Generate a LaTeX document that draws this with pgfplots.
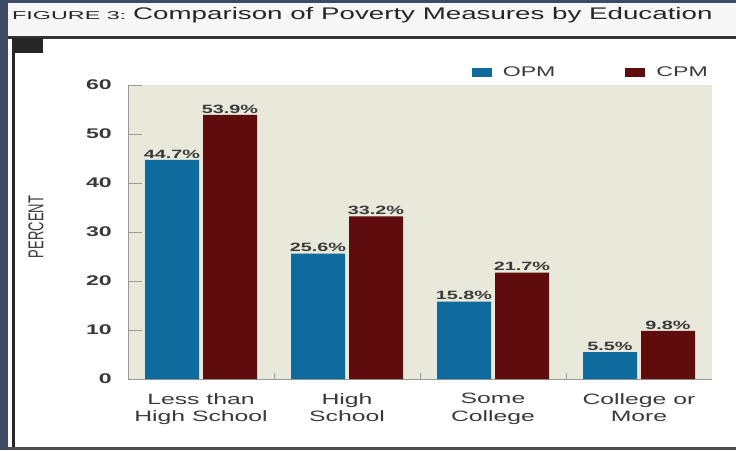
\documentclass[border=0pt]{standalone}
\usepackage{fontspec}
\setmainfont{Liberation Sans}[FakeStretch=1.65]
\newfontfamily\plainfont{Liberation Sans}
\usepackage{graphicx}
\usepackage{pgfplots}
\pgfplotsset{compat=1.18}
\definecolor{opmblue}{HTML}{0F6A9D}
\definecolor{cpmred}{HTML}{5E0C0C}
\definecolor{panelbg}{HTML}{E8E9DB}
\definecolor{frameblue}{HTML}{3B4B66}
\definecolor{txtgray}{HTML}{3A3A3A}
\definecolor{axisgray}{HTML}{9A9A96}

\begin{document}
\begin{tikzpicture}[x=1pt,y=1pt]
% page frame (1 unit = 1 px of the reference)
\path[use as bounding box] (0,0) rectangle (736,-450);
\fill[white] (0,0) rectangle (736,-450);
\fill[gray!6] (8,-3) rectangle (736,-35.5);
\fill[frameblue] (0,0) rectangle (736,-3);
\fill[frameblue] (0,0) rectangle (8,-450);
\fill[black!80] (8,-35.5) rectangle (736,-38.5);
\fill[black!85] (12,-38) rectangle (15,-447);
\fill[black!85] (12,-38) rectangle (43,-53);
\fill[black!70] (8,-447) rectangle (736,-450);
\node[anchor=base west, inner sep=0pt, text=black!85] at (12,-19)
  {\scalebox{1.24}[1]{\fontsize{11.4}{12}\selectfont FIGURE 3:}};
\node[anchor=base west, inner sep=0pt, text=black!85] at (133,-19)
  {\fontsize{16.8}{18}\selectfont Comparison of Poverty Measures by Education};

\begin{axis}[
  scale only axis,
  width=584pt, height=294pt,
  at={(128pt,-379pt)}, anchor=south west,
  xmin=-0.5, xmax=3.5, ymin=0, ymax=60,
  ybar=4pt, bar width=54pt,
  axis background/.style={fill=panelbg},
  axis x line*=bottom, axis y line*=left,
  axis line style={draw=axisgray, line width=0.8pt, -},
  tick align=inside,
  ytick={0,10,...,60},
  ytick style={draw=axisgray, line width=0.8pt, /pgfplots/major tick length=14pt},
  yticklabel style={font=\fontsize{14}{14}\selectfont\bfseries, text=txtgray,
    inner sep=0pt, xshift=-16pt},
  /pgf/number format/assume math mode=true,
  xtick={0,1,2,3},
  xticklabels={{Less than\\High School},{High\\School},{Some\\College},{College or\\More}},
  xticklabel style={align=center, font=\fontsize{15}{17.4}\selectfont, text=txtgray,
    inner sep=0pt, yshift=-14pt},
  every major x tick/.append style={draw=none},
  minor x tick num=1,
  every minor x tick/.append style={draw=axisgray, line width=0.8pt},
  minor tick length=6pt,
  every axis y label/.style={at={(rel axis cs:0,0.517)}, xshift=-92pt,
    rotate=90, anchor=center, text=txtgray},
  ylabel={\plainfont\fontsize{13}{13}\selectfont\scalebox{1}[1.65]{PERCENT}},
  nodes near coords,
  point meta=explicit symbolic,
  every node near coord/.append style={font=\fontsize{12}{12}\selectfont\bfseries,
    text=txtgray, anchor=south, inner sep=1.5pt},
  legend columns=2,
  legend style={at={(1,1)}, anchor=south east, xshift=-4pt, yshift=7pt,
    draw=none, fill=none, inner sep=0pt,
    font=\fontsize{14}{14}\selectfont, text=txtgray,
    nodes={inner sep=0pt},
    /tikz/every odd column/.append style={column sep=11pt},
    /tikz/every even column/.append style={column sep=70pt}},
  legend cell align=left,
]
\addplot[fill=opmblue, draw=none,
  legend image code/.code={\fill[opmblue] (0pt,-4.5pt) rectangle (20pt,4.5pt);}]
  coordinates {(0,44.7) [44.7\%] (1,25.6) [25.6\%] (2,15.8) [15.8\%] (3,5.5) [5.5\%]};
\addplot[fill=cpmred, draw=none,
  legend image code/.code={\fill[cpmred] (0pt,-4.5pt) rectangle (20pt,4.5pt);}]
  coordinates {(0,53.9) [53.9\%] (1,33.2) [33.2\%] (2,21.7) [21.7\%] (3,9.8) [9.8\%]};
\legend{OPM, CPM}
\end{axis}
\end{tikzpicture}
\end{document}
